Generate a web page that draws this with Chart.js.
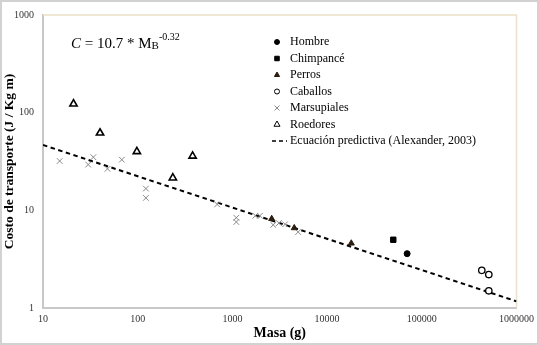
<!DOCTYPE html>
<html>
<head>
<meta charset="utf-8">
<script src="https://cdn.jsdelivr.net/npm/chart.js@4"></script>
<style>
  html, body { margin: 0; padding: 0; background: #fff; }
  canvas { display: block; }
</style>
</head>
<body>
<canvas id="chart" width="539" height="345"></canvas>
<script>
// Data (masa in g, costo in J / Kg m)
const masaHombre = [70000];
const costoHombre = [3.6];
const masaChimpance = [50000];
const costoChimpance = [5.0];
const masaPerros = [2600, 4500, 18000];
const costoPerros = [8.2, 6.6, 4.6];
const masaCaballos = [430000, 510000, 510000];
const costoCaballos = [2.43, 2.2, 1.5];
const masaMarsupiales = [15, 30, 34, 48, 68, 122, 122, 690, 1100, 1100, 1750, 1950, 2700, 3100, 3600, 4950];
const costoMarsupiales = [32, 29.4, 35, 26.6, 33, 16.7, 13.4, 11.5, 8.4, 7.6, 8.8, 8.8, 7.1, 7.4, 7.2, 6.0];
const masaRoedores = [21, 40, 98, 235, 380];
const costoRoedores = [123, 62, 40, 21.5, 36];
const masaEcuacion = [10, 1000000];
const costoEcuacion = [46.7, 1.17];

const masaTicks = [10, 100, 1000, 10000, 100000, 1000000];
const costoTicks = [1, 10, 100, 1000];

const serif = "'Liberation Serif', 'Times New Roman', serif";

function toPoints(xs, ys) {
  return xs.map((x, i) => ({ x: x, y: ys[i] }));
}

// Legend drawn inside the plot area, like the original
const legendPlugin = {
  id: "legendInside",
  afterDraw(chart) {
    const ctx = chart.ctx;
    const x0 = 277;
    let y = 42;
    ctx.save();
    chart.data.datasets.forEach((ds) => {
      if (ds.showLine) {
        ctx.strokeStyle = "#000";
        ctx.lineWidth = 1.5;
        ctx.setLineDash([4, 3]);
        ctx.beginPath();
        ctx.moveTo(272, y);
        ctx.lineTo(287, y);
        ctx.stroke();
        ctx.setLineDash([]);
      } else {
        ctx.fillStyle = ds.backgroundColor;
        ctx.strokeStyle = ds.borderColor;
        ctx.lineWidth = 1;
        Chart.helpers.drawPoint(ctx, {
          pointStyle: ds.pointStyle,
          radius: ds.legendRadius,
          rotation: 0,
          borderWidth: 1,
        }, x0, y);
      }
      ctx.fillStyle = "#000";
      ctx.font = "12px " + serif;
      ctx.textBaseline = "middle";
      ctx.textAlign = "left";
      ctx.fillText(ds.label, 290, y);
      y += 16.5;
    });
    ctx.restore();
  },
};

// Background, plot frame, outer frame and the equation text
const framePlugin = {
  id: "frame",
  beforeDraw(chart) {
    const ctx = chart.ctx;
    ctx.save();
    ctx.fillStyle = "#fff";
    ctx.fillRect(0, 0, chart.width, chart.height);
    ctx.restore();
  },
  beforeDatasetsDraw(chart) {
    const { ctx, chartArea: a } = chart;
    ctx.save();
    ctx.strokeStyle = "#ecdfc6";
    ctx.lineWidth = 1.5;
    ctx.beginPath();
    ctx.moveTo(a.left, a.top);
    ctx.lineTo(a.right, a.top);
    ctx.lineTo(a.right, a.bottom);
    ctx.stroke();
    ctx.restore();
  },
  afterDraw(chart) {
    const ctx = chart.ctx;
    ctx.save();
    ctx.strokeStyle = "#d2d2d2";
    ctx.lineWidth = 2;
    ctx.strokeRect(1, 1, chart.width - 2, chart.height - 2);

    // C = 10.7 * M_B^-0.32
    let x = 71;
    const base = 48;
    ctx.fillStyle = "#000";
    ctx.textBaseline = "alphabetic";
    ctx.textAlign = "left";
    ctx.font = "italic 15px " + serif;
    ctx.fillText("C", x, base);
    x += ctx.measureText("C").width;
    ctx.font = "15px " + serif;
    const mid = " = 10.7 * M";
    ctx.fillText(mid, x, base);
    x += ctx.measureText(mid).width;
    ctx.font = "11px " + serif;
    ctx.fillText("B", x, base + 1);
    x += ctx.measureText("B").width;
    ctx.font = "10px " + serif;
    ctx.fillText("-0.32", x, base - 8);
    ctx.restore();
  },
};

new Chart(document.getElementById("chart"), {
  type: "scatter",
  data: {
    datasets: [
      {
        label: "Hombre",
        data: toPoints(masaHombre, costoHombre),
        pointStyle: "circle",
        pointRadius: 3,
        backgroundColor: "#000",
        borderColor: "#000",
        borderWidth: 1,
        legendRadius: 2.5,
      },
      {
        label: "Chimpancé",
        data: toPoints(masaChimpance, costoChimpance),
        pointStyle: "rect",
        pointRadius: 3.8,
        backgroundColor: "#000",
        borderColor: "#000",
        borderWidth: 1,
        legendRadius: 3.2,
      },
      {
        label: "Perros",
        data: toPoints(masaPerros, costoPerros),
        pointStyle: "triangle",
        pointRadius: 3.5,
        backgroundColor: "#2b1d10",
        borderColor: "#2b1d10",
        borderWidth: 1,
        legendRadius: 3,
      },
      {
        label: "Caballos",
        data: toPoints(masaCaballos, costoCaballos),
        pointStyle: "circle",
        pointRadius: 3.2,
        backgroundColor: "#fff",
        borderColor: "#000",
        borderWidth: 1.3,
        legendRadius: 2.5,
      },
      {
        label: "Marsupiales",
        data: toPoints(masaMarsupiales, costoMarsupiales),
        pointStyle: "crossRot",
        pointRadius: 4,
        backgroundColor: "#8a8a8a",
        borderColor: "#8a8a8a",
        borderWidth: 1,
        legendRadius: 3.5,
      },
      {
        label: "Roedores",
        data: toPoints(masaRoedores, costoRoedores),
        pointStyle: "triangle",
        pointRadius: 4.2,
        backgroundColor: "#fff",
        borderColor: "#000",
        borderWidth: 1.6,
        legendRadius: 3.5,
      },
      {
        label: "Ecuación predictiva (Alexander, 2003)",
        type: "line",
        data: toPoints(masaEcuacion, costoEcuacion),
        showLine: true,
        borderColor: "#000",
        borderWidth: 2,
        borderDash: [4.5, 3.5],
        pointRadius: 0,
        fill: false,
      },
    ],
  },
  options: {
    responsive: false,
    animation: false,
    devicePixelRatio: 1,
    layout: { padding: { top: 7, right: 19, left: 0, bottom: 0 } },
    plugins: {
      legend: { display: false },
      tooltip: { enabled: false },
    },
    scales: {
      x: {
        type: "logarithmic",
        min: 10,
        max: 1000000,
        afterBuildTicks: (scale) => {
          scale.ticks = masaTicks.map((v) => ({ value: v }));
        },
        afterFit: (scale) => {
          scale.height = 37;
        },
        grid: { display: false, drawTicks: false },
        border: { display: true, color: "#c8c8c8", width: 2 },
        ticks: {
          autoSkip: false,
          maxRotation: 0,
          padding: 5,
          color: "#333",
          font: { family: serif, size: 10 },
          callback: (value) => String(value),
        },
        title: {
          display: true,
          text: "Masa (g)",
          color: "#000",
          font: { family: serif, size: 14, weight: "bold" },
          padding: { top: 0, bottom: 3 },
        },
      },
      y: {
        type: "logarithmic",
        min: 1,
        max: 1000,
        afterBuildTicks: (scale) => {
          scale.ticks = costoTicks.map((v) => ({ value: v }));
        },
        afterFit: (scale) => {
          scale.width = 43;
        },
        grid: { display: false, drawTicks: false },
        border: { display: true, color: "#c8c8c8", width: 2 },
        ticks: {
          autoSkip: false,
          padding: 9,
          color: "#333",
          font: { family: serif, size: 10 },
          callback: (value) => String(value),
        },
        title: {
          display: true,
          text: "Costo de transporte (J / Kg m)",
          color: "#000",
          font: { family: serif, size: 13.5, weight: "bold" },
          padding: { top: 1, bottom: 0 },
        },
      },
    },
  },
  plugins: [framePlugin, legendPlugin],
});
</script>
</body>
</html>
